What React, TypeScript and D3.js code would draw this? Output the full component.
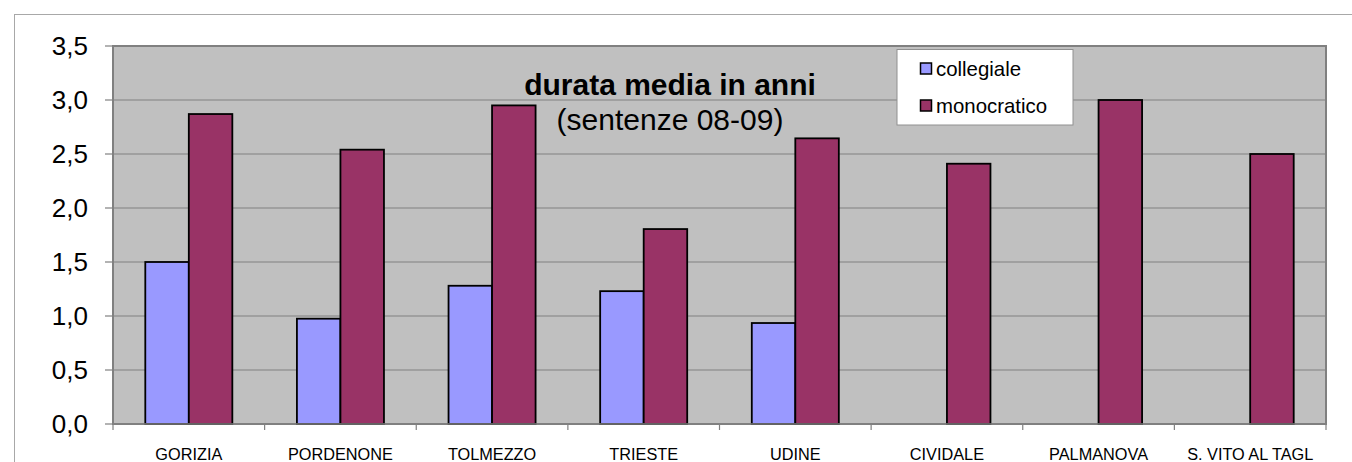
import React from "react";
import * as d3 from "d3";

const categories = ["GORIZIA", "PORDENONE", "TOLMEZZO", "TRIESTE", "UDINE", "CIVIDALE", "PALMANOVA", "S. VITO AL TAGL"];
const seriesNames = ["collegiale", "monocratico"];
const collegiale: (number | null)[] = [1.5, 0.975, 1.28, 1.23, 0.935, null, null, null];
const monocratico: (number | null)[] = [2.87, 2.54, 2.95, 1.805, 2.645, 2.41, 3.0, 2.5];
const yTicks = [0, 0.5, 1, 1.5, 2, 2.5, 3, 3.5];
const colors = ["#9999FF", "#993366"];
const titleMain = "durata media in anni";
const titleSub = "(sentenze 08-09)";

const W = 1352;
const H = 462;
const plot = { left: 113, right: 1326, top: 46, bottom: 424 };
const FONT = "'Liberation Sans', Arial, Helvetica, sans-serif";

export default function App() {
  const x0 = d3.scaleBand<string>().domain(categories).range([plot.left, plot.right]).paddingInner(0).paddingOuter(0);
  const x1 = d3.scaleBand<string>().domain(seriesNames).range([0, x0.bandwidth()]).paddingInner(0).paddingOuter(0.742);
  const y = d3.scaleLinear().domain([0, 3.5]).range([plot.bottom, plot.top]);
  const fmt = (v: number) => d3.format(".1f")(v).replace(".", ",");
  const seriesData = [collegiale, monocratico];

  return (
    <svg width={W} height={H} style={{ position: "absolute", left: 0, top: 0, background: "#fff" }} fontFamily={FONT}>
      <rect x={0} y={0} width={W} height={H} fill="#fff" />
      <rect x={14.5} y={14.5} width={W + 20} height={H + 20} fill="#fff" stroke="#A8A8A8" strokeWidth={1} />
      {/* plot area */}
      <rect x={plot.left} y={plot.top} width={plot.right - plot.left} height={plot.bottom - plot.top} fill="#C0C0C0" stroke="#808080" strokeWidth={2} />
      {yTicks.map((t) => (
        <line key={"g" + t} x1={plot.left} x2={plot.right} y1={y(t)} y2={y(t)} stroke="#808080" strokeWidth={1.2} />
      ))}
      {/* bars */}
      {categories.map((c, i) => (
        <g key={c}>
          {seriesData.map((s, j) => {
            const v = s[i];
            if (v == null) return null;
            const bx = (x0(c) as number) + (x1(seriesNames[j]) as number);
            return (
              <rect key={j} x={bx} y={y(v)} width={x1.bandwidth()} height={y(0) - y(v)} fill={colors[j]} stroke="#000" strokeWidth={1.8} />
            );
          })}
        </g>
      ))}
      {/* axes */}
      <line x1={plot.left} x2={plot.left} y1={plot.top} y2={plot.bottom} stroke="#808080" strokeWidth={1.5} />
      <line x1={plot.left} x2={plot.right} y1={plot.bottom} y2={plot.bottom} stroke="#808080" strokeWidth={1.5} />
      {yTicks.map((t) => (
        <g key={"t" + t}>
          <line x1={plot.left - 8} x2={plot.left} y1={y(t)} y2={y(t)} stroke="#808080" strokeWidth={1.2} />
          <text x={88} y={y(t)} dy="0.36em" textAnchor="end" fontSize={26} fill="#000">{fmt(t)}</text>
        </g>
      ))}
      {categories.map((c) => (
        <line key={"xt" + c} x1={x0(c) as number} x2={x0(c) as number} y1={plot.bottom} y2={plot.bottom + 6} stroke="#808080" strokeWidth={1.2} />
      ))}
      <line x1={plot.right} x2={plot.right} y1={plot.bottom} y2={plot.bottom + 6} stroke="#808080" strokeWidth={1.2} />
      {categories.map((c) => (
        <text key={"xl" + c} x={(x0(c) as number) + x0.bandwidth() / 2} y={460} textAnchor="middle" fontSize={16.3} fill="#000">{c}</text>
      ))}
      {/* title */}
      <text x={670} y={95} textAnchor="middle" fontSize={30} fontWeight="bold" fill="#000">{titleMain}</text>
      <text x={670} y={130} textAnchor="middle" fontSize={30} fill="#000">{titleSub}</text>
      {/* legend */}
      <rect x={897} y={49.5} width={176} height={75.5} fill="#fff" stroke="#909090" strokeWidth={1} />
      {seriesNames.map((s, j) => (
        <g key={"lg" + s}>
          <rect x={920.5} y={63 + j * 37} width={11} height={11} fill={colors[j]} stroke="#000" strokeWidth={1.5} />
          <text x={936} y={76 + j * 37} fontSize={20.4} fill="#000">{s}</text>
        </g>
      ))}
    </svg>
  );
}
